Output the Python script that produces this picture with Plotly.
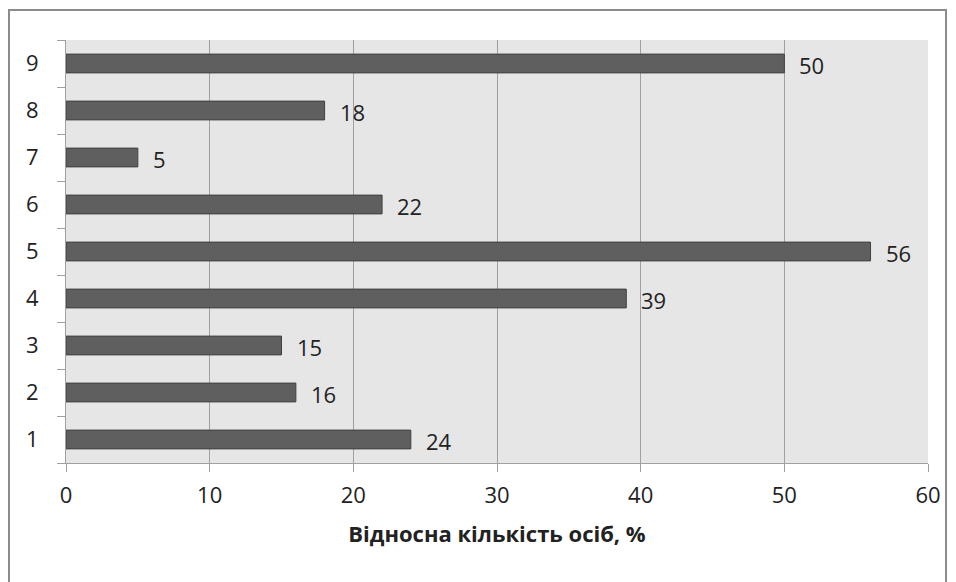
import plotly.graph_objects as go

categories = [1, 2, 3, 4, 5, 6, 7, 8, 9]
values = [24, 16, 15, 39, 56, 22, 5, 18, 50]
x_ticks = [0, 10, 20, 30, 40, 50, 60]
x_title = "Відносна кількість осіб, %"

FONT = "Open Sans"
TXT = "#222222"
FS = 22

fig = go.Figure()
fig.add_trace(go.Bar(
    x=values,
    y=categories,
    orientation="h",
    width=0.4,
    marker=dict(color="#5f5f5f", line=dict(color="#404040", width=1)),
    hoverinfo="x+y",
))

# value labels just right of each bar end
for c, v in zip(categories, values):
    fig.add_annotation(
        x=v, y=c, xref="x", yref="y", text=str(v),
        showarrow=False, xanchor="left", xshift=13, yshift=-1,
        font=dict(family=FONT, size=FS, color=TXT),
    )

L, R, T, B = 66, 28, 40, 119
W, H = 956, 582
pw, ph = W - L - R, H - T - B

# outer chart frame
fig.add_shape(
    type="rect", xref="paper", yref="paper",
    x0=(9 - L) / pw, x1=(946 - L) / pw,
    y0=(H - B - 600) / ph, y1=(H - B - 10) / ph,
    line=dict(color="#8c8c8c", width=2), fillcolor="rgba(0,0,0,0)",
    layer="below",
)

fig.update_layout(
    width=W, height=H,
    margin=dict(l=L, r=R, t=T, b=B),
    paper_bgcolor="white",
    plot_bgcolor="#e6e6e6",
    showlegend=False,
    font=dict(family=FONT, size=FS, color=TXT),
    xaxis=dict(
        range=[0, 60], tickvals=x_ticks, ticktext=[str(t) for t in x_ticks],
        showgrid=True, gridcolor="#a0a0a0", gridwidth=1,
        showline=True, linecolor="#a0a0a0", linewidth=1,
        ticks="outside", ticklen=8, tickcolor="#a0a0a0",
        ticklabelstandoff=5,
        tickfont=dict(size=FS), zeroline=False,
        title=dict(text="<b>" + x_title + "</b>", font=dict(size=22), standoff=18),
    ),
    yaxis=dict(
        range=[0.5, 9.5], tickvals=categories, ticktext=[str(c) for c in categories],
        showgrid=False, zeroline=False,
        showline=True, linecolor="#a0a0a0", linewidth=1,
        ticks="", ticklabelstandoff=22,
        minor=dict(tick0=0.5, dtick=1, ticks="outside", ticklen=8,
                   tickcolor="#a0a0a0", showgrid=False),
        tickfont=dict(size=FS),
    ),
)

fig.write_html("out.html")
